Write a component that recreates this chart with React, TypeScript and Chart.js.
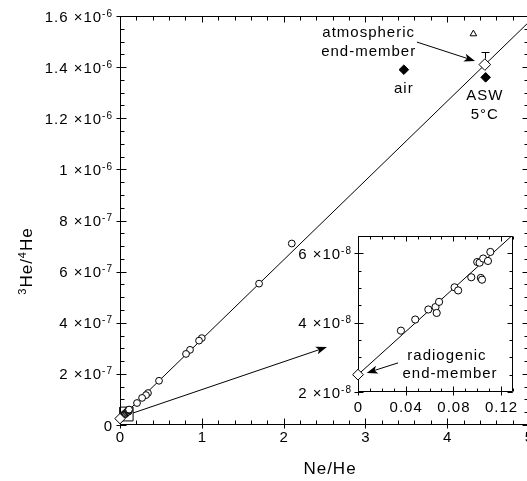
import React, { useEffect, useRef } from "react";
import { Chart, registerables } from "chart.js";

Chart.register(...registerables);

// ---------------- data ----------------
const sampleNeHe = [2.1, 1.7, 1.0, 0.966, 0.856, 0.807, 0.477, 0.342, 0.318, 0.27, 0.208];
const sampleHe3He4 = [7.1e-7, 5.53e-7, 3.4e-7, 3.3e-7, 2.94e-7, 2.78e-7, 1.73e-7, 1.25e-7, 1.17e-7, 1.06e-7, 0.86e-7];

const insetNeHe = [0.036, 0.048, 0.059, 0.065, 0.066, 0.068, 0.081, 0.084, 0.095, 0.103, 0.104, 0.1, 0.102, 0.105, 0.109, 0.111];
const insetHe3He4 = [3.77e-8, 4.09e-8, 4.38e-8, 4.45e-8, 4.28e-8, 4.6e-8, 5.02e-8, 4.93e-8, 5.31e-8, 5.29e-8, 5.24e-8, 5.75e-8, 5.73e-8, 5.85e-8, 5.78e-8, 6.04e-8];

const mixingNeHe = [0, 5];
const mixingHe3He4 = [2.5e-8, 1.577e-6];

const radiogenicNeHe = [0];
const radiogenicHe3He4 = [2.5e-8];
const atmosphericNeHe = [4.46];
const atmosphericHe3He4 = [1.41e-6];
const atmosphericErrTop = [1.46e-6];
const aswNeHe = [4.47];
const aswHe3He4 = [1.36e-6];
const airNeHe = [3.47];
const airHe3He4 = [1.39e-6];
const triangleNeHe = [4.32];
const triangleHe3He4 = [1.53e-6];

const insetBoxNeHe = [0, 0.16, 0.16, 0, 0];
const insetBoxHe3He4 = [1.6e-8, 1.6e-8, 7e-8, 7e-8, 1.6e-8];

const mainXTicks = [0, 1, 2, 3, 4, 5];
const mainXTickLabels = ["0", "1", "2", "3", "4", "5"];
const mainYTicks = [0, 2e-7, 4e-7, 6e-7, 8e-7, 1e-6, 1.2e-6, 1.4e-6, 1.6e-6];
const mainYTickLabels: [string, string][] = [
  ["0", ""], ["2", "-7"], ["4", "-7"], ["6", "-7"], ["8", "-7"],
  ["1", "-6"], ["1.2", "-6"], ["1.4", "-6"], ["1.6", "-6"],
];
const insetXTicks = [0, 0.04, 0.08, 0.12];
const insetXTickLabels = ["0", "0.04", "0.08", "0.12"];
const insetYTicks = [2e-8, 4e-8, 6e-8];
const insetYTickLabels: [string, string][] = [["2", "-8"], ["4", "-8"], ["6", "-8"]];

// ---------------- helpers ----------------
const FONT = '"Liberation Sans", Arial, Helvetica, sans-serif';
const font = (s: number) => `${s}px ${FONT}`;
const pts = (xs: number[], ys: number[]) => xs.map((x, i) => ({ x, y: ys[i] }));
const range = (a: number, b: number, step: number) => {
  const out: number[] = [];
  const n = Math.round((b - a) / step);
  for (let i = 0; i <= n; i++) out.push(a + i * step);
  return out;
};

function spacing(ctx: any, px: number) {
  if ("letterSpacing" in ctx) ctx.letterSpacing = px + "px";
}

function arrow(ctx: CanvasRenderingContext2D, x1: number, y1: number, x2: number, y2: number, len = 11, half = 4) {
  const a = Math.atan2(y2 - y1, x2 - x1);
  ctx.beginPath();
  ctx.moveTo(x1, y1);
  ctx.lineTo(x2 - Math.cos(a) * len * 0.6, y2 - Math.sin(a) * len * 0.6);
  ctx.stroke();
  ctx.beginPath();
  ctx.moveTo(x2, y2);
  ctx.lineTo(x2 - Math.cos(a) * len - Math.sin(a) * half, y2 - Math.sin(a) * len + Math.cos(a) * half);
  ctx.lineTo(x2 - Math.cos(a) * len * 0.75, y2 - Math.sin(a) * len * 0.75);
  ctx.lineTo(x2 - Math.cos(a) * len + Math.sin(a) * half, y2 - Math.sin(a) * len - Math.cos(a) * half);
  ctx.closePath();
  ctx.fill();
}

function sciLabel(ctx: CanvasRenderingContext2D, rightX: number, y: number, mant: string, exp: string, size: number) {
  const base = y + 5.5;
  ctx.fillStyle = "#000";
  spacing(ctx, 1);
  if (!exp) {
    ctx.font = font(size);
    ctx.textAlign = "right";
    ctx.fillText(mant, rightX, base);
    return;
  }
  ctx.font = font(10);
  const supW = ctx.measureText(exp).width;
  ctx.textAlign = "left";
  ctx.fillText(exp, rightX - supW, base - 5);
  ctx.font = font(size);
  ctx.textAlign = "right";
  ctx.fillText(mant + " \u00d710", rightX - supW, base);
}

type AxisSpec = {
  xMajor: number[]; xMinor: number[]; yMajor: number[]; yMinor: number[];
  majIn: number; majOut: number; minIn: number;
};

function drawFrame(chart: any, s: AxisSpec) {
  const ctx: CanvasRenderingContext2D = chart.ctx;
  const { left, right, top, bottom } = chart.chartArea;
  const xs = chart.scales.x, ys = chart.scales.y;
  const L = Math.round(left) + 0.5, R = Math.round(right) - 0.5, T = Math.round(top) + 0.5, B = Math.round(bottom) - 0.5;
  ctx.save();
  ctx.strokeStyle = "#000";
  ctx.lineWidth = 1;
  ctx.beginPath();
  ctx.moveTo(L, T); ctx.lineTo(R, T);
  ctx.moveTo(L, B); ctx.lineTo(R, B);
  ctx.moveTo(L, T); ctx.lineTo(L, B);
  ctx.moveTo(R, T); ctx.lineTo(R, B);
  const xt = (v: number, major: boolean) => {
    const p = Math.round(xs.getPixelForValue(v)) + 0.5;
    const inn = major ? s.majIn : s.minIn;
    ctx.moveTo(p, B + (major ? s.majOut : 0)); ctx.lineTo(p, B - inn);
    ctx.moveTo(p, T); ctx.lineTo(p, T + inn);
  };
  s.xMinor.forEach((v) => xt(v, false));
  s.xMajor.forEach((v) => xt(v, true));
  const yt = (v: number, major: boolean) => {
    const p = Math.round(ys.getPixelForValue(v)) + 0.5;
    const inn = major ? s.majIn : s.minIn;
    ctx.moveTo(L - (major ? s.majOut : 0), p); ctx.lineTo(L + inn, p);
    ctx.moveTo(R, p); ctx.lineTo(R - inn, p);
  };
  s.yMinor.forEach((v) => yt(v, false));
  s.yMajor.forEach((v) => yt(v, true));
  ctx.stroke();
  ctx.restore();
}

const mainDecor = {
  id: "mainDecor",
  beforeDatasetsDraw(chart: any) {
    drawFrame(chart, {
      xMajor: mainXTicks, xMinor: range(0, 5, 0.2),
      yMajor: mainYTicks, yMinor: range(0, 1.6e-6, 5e-8),
      majIn: 6, majOut: 4, minIn: 4,
    });
    const ctx: CanvasRenderingContext2D = chart.ctx;
    const xs = chart.scales.x, ys = chart.scales.y;
    const { left, bottom } = chart.chartArea;
    ctx.save();
    mainYTicks.forEach((v, i) => {
      const [m, e] = mainYTickLabels[i];
      sciLabel(ctx, left - 7, ys.getPixelForValue(v), m, e, 15);
    });
    ctx.font = font(15);
    spacing(ctx, 1);
    ctx.textAlign = "center";
    ctx.fillStyle = "#000";
    mainXTicks.forEach((v, i) => {
      ctx.fillText(mainXTickLabels[i], xs.getPixelForValue(v) + 0.5, bottom + 17);
    });
    ctx.font = font(17);
    ctx.fillText("Ne/He", 330, 474);
    ctx.translate(32, 261);
    ctx.rotate(-Math.PI / 2);
    const parts: [string, boolean][] = [["3", true], ["He/", false], ["4", true], ["He", false]];
    let total = 0;
    parts.forEach(([t, sup]) => { ctx.font = font(sup ? 11 : 17); total += ctx.measureText(t).width; });
    let cx = -total / 2;
    ctx.textAlign = "left";
    parts.forEach(([t, sup]) => {
      ctx.font = font(sup ? 11 : 17);
      ctx.fillText(t, cx, sup ? -6 : 0);
      cx += ctx.measureText(t).width;
    });
    ctx.restore();
  },
  afterDatasetsDraw(chart: any) {
    const ctx: CanvasRenderingContext2D = chart.ctx;
    const xs = chart.scales.x, ys = chart.scales.y;
    const X = (v: number) => xs.getPixelForValue(v);
    const Y = (v: number) => ys.getPixelForValue(v);
    ctx.save();
    ctx.strokeStyle = "#000";
    ctx.fillStyle = "#000";
    ctx.lineWidth = 1;
    const ex = Math.round(X(atmosphericNeHe[0])) + 0.5;
    const eTop = Math.round(Y(atmosphericErrTop[0])) + 0.5;
    ctx.beginPath();
    ctx.moveTo(ex, Y(atmosphericHe3He4[0]) - 6);
    ctx.lineTo(ex, eTop);
    ctx.moveTo(ex - 4, eTop); ctx.lineTo(ex + 4, eTop);
    ctx.stroke();
    arrow(ctx, X(3.63), Y(1.498e-6), X(4.34), Y(1.424e-6));
    arrow(ctx, X(0.16), Y(4.7e-8), X(2.53), Y(3.05e-7));
    ctx.font = font(15);
    spacing(ctx, 1);
    ctx.textAlign = "center";
    ctx.fillText("atmospheric", X(3.04), Y(1.518e-6));
    ctx.fillText("end-member", X(3.04), Y(1.443e-6));
    ctx.fillText("air", X(3.47), Y(1.298e-6));
    ctx.fillText("ASW", X(4.46), Y(1.271e-6));
    ctx.fillText("5\u00b0C", X(4.46), Y(1.197e-6));
    ctx.restore();
  },
};

const insetDecor = {
  id: "insetDecor",
  beforeDatasetsDraw(chart: any) {
    const ctx: CanvasRenderingContext2D = chart.ctx;
    const { left, right, top, bottom } = chart.chartArea;
    ctx.save();
    ctx.fillStyle = "#fff";
    ctx.fillRect(left, top, right - left, bottom - top);
    ctx.restore();
    drawFrame(chart, {
      xMajor: insetXTicks, xMinor: range(0, 0.13, 0.01),
      yMajor: insetYTicks, yMinor: range(2e-8, 6.5e-8, 5e-9),
      majIn: 5, majOut: 4, minIn: 3,
    });
    const xs = chart.scales.x, ys = chart.scales.y;
    ctx.save();
    insetYTicks.forEach((v, i) => {
      const [m, e] = insetYTickLabels[i];
      sciLabel(ctx, left - 6, ys.getPixelForValue(v), m, e, 15);
    });
    ctx.font = font(15);
    spacing(ctx, 1);
    ctx.textAlign = "center";
    ctx.fillStyle = "#000";
    insetXTicks.forEach((v, i) => {
      ctx.fillText(insetXTickLabels[i], xs.getPixelForValue(v) + 0.5, bottom + 20);
    });
    ctx.restore();
  },
  afterDatasetsDraw(chart: any) {
    const ctx: CanvasRenderingContext2D = chart.ctx;
    const xs = chart.scales.x, ys = chart.scales.y;
    const X = (v: number) => xs.getPixelForValue(v);
    const Y = (v: number) => ys.getPixelForValue(v);
    ctx.save();
    ctx.strokeStyle = "#000";
    ctx.fillStyle = "#000";
    ctx.lineWidth = 1;
    arrow(ctx, X(0.0336), Y(2.84e-8), X(0.0073), Y(2.55e-8));
    ctx.font = font(15);
    spacing(ctx, 1);
    ctx.textAlign = "center";
    ctx.fillText("radiogenic", X(0.0746), Y(2.93e-8));
    ctx.fillText("end-member", X(0.0772), Y(2.41e-8));
    ctx.restore();
  },
};

const lineDs = (data: any[], extra: any = {}) => ({
  type: "line" as const,
  data,
  borderColor: "#000",
  borderWidth: 1,
  pointRadius: 0,
  fill: false,
  tension: 0,
  order: 5,
  ...extra,
});

const ptDs = (data: any[], style: string, r: number, bg: string, order = 1) => ({
  data,
  pointStyle: style,
  pointRadius: r,
  backgroundColor: bg,
  borderColor: "#000",
  borderWidth: 1,
  clip: false,
  order,
});

export default function App() {
  const mainRef = useRef<HTMLCanvasElement>(null);
  const insetRef = useRef<HTMLCanvasElement>(null);

  useEffect(() => {
    document.body.style.margin = "0";
    const main = new Chart(mainRef.current!, {
      type: "scatter",
      data: {
        datasets: [
          lineDs(pts(mixingNeHe, mixingHe3He4), { clip: 0 }),
          lineDs(pts(insetBoxNeHe, insetBoxHe3He4), { clip: false }),
          ptDs(pts([...sampleNeHe, ...insetNeHe], [...sampleHe3He4, ...insetHe3He4]), "circle", 3.4, "#fff", 2),
          ptDs(pts(radiogenicNeHe, radiogenicHe3He4), "rectRot", 5.2, "#fff", 0),
          ptDs(pts(atmosphericNeHe, atmosphericHe3He4), "rectRot", 5.8, "#fff", 0),
          ptDs(pts(aswNeHe, aswHe3He4), "rectRot", 4.8, "#000", 0),
          ptDs(pts(airNeHe, airHe3He4), "rectRot", 4.8, "#000", 0),
          ptDs(pts(triangleNeHe, triangleHe3He4), "triangle", 3.8, "#fff", 0),
        ] as any,
      },
      options: {
        animation: false,
        responsive: false,
        maintainAspectRatio: false,
        events: [],
        layout: { autoPadding: false, padding: { left: 120, top: 16, right: 1, bottom: 56 } },
        scales: {
          x: { type: "linear", min: 0, max: 5, display: false },
          y: { type: "linear", min: 0, max: 1.6e-6, display: false },
        },
        plugins: { legend: { display: false }, tooltip: { enabled: false } },
      },
      plugins: [mainDecor],
    });
    const inset = new Chart(insetRef.current!, {
      type: "scatter",
      data: {
        datasets: [
          lineDs(pts(mixingNeHe, mixingHe3He4), { clip: 0 }),
          ptDs(pts(insetNeHe, insetHe3He4), "circle", 3.6, "#fff", 2),
          ptDs(pts(radiogenicNeHe, radiogenicHe3He4), "rectRot", 5.4, "#fff", 0),
        ] as any,
      },
      options: {
        animation: false,
        responsive: false,
        maintainAspectRatio: false,
        events: [],
        layout: { autoPadding: false, padding: { left: 68, top: 10, right: 9, bottom: 29 } },
        scales: {
          x: { type: "linear", min: 0, max: 0.13, display: false },
          y: { type: "linear", min: 2e-8, max: 6.5e-8, display: false },
        },
        plugins: { legend: { display: false }, tooltip: { enabled: false } },
      },
      plugins: [insetDecor],
    });
    return () => {
      main.destroy();
      inset.destroy();
    };
  }, []);

  return (
    <div style={{ position: "relative", width: 527, height: 481, overflow: "hidden" }}>
      <canvas ref={mainRef} width={530} height={481} style={{ position: "absolute", left: 0, top: 0 }} />
      <canvas ref={insetRef} width={232} height={195} style={{ position: "absolute", left: 290, top: 226 }} />
    </div>
  );
}
